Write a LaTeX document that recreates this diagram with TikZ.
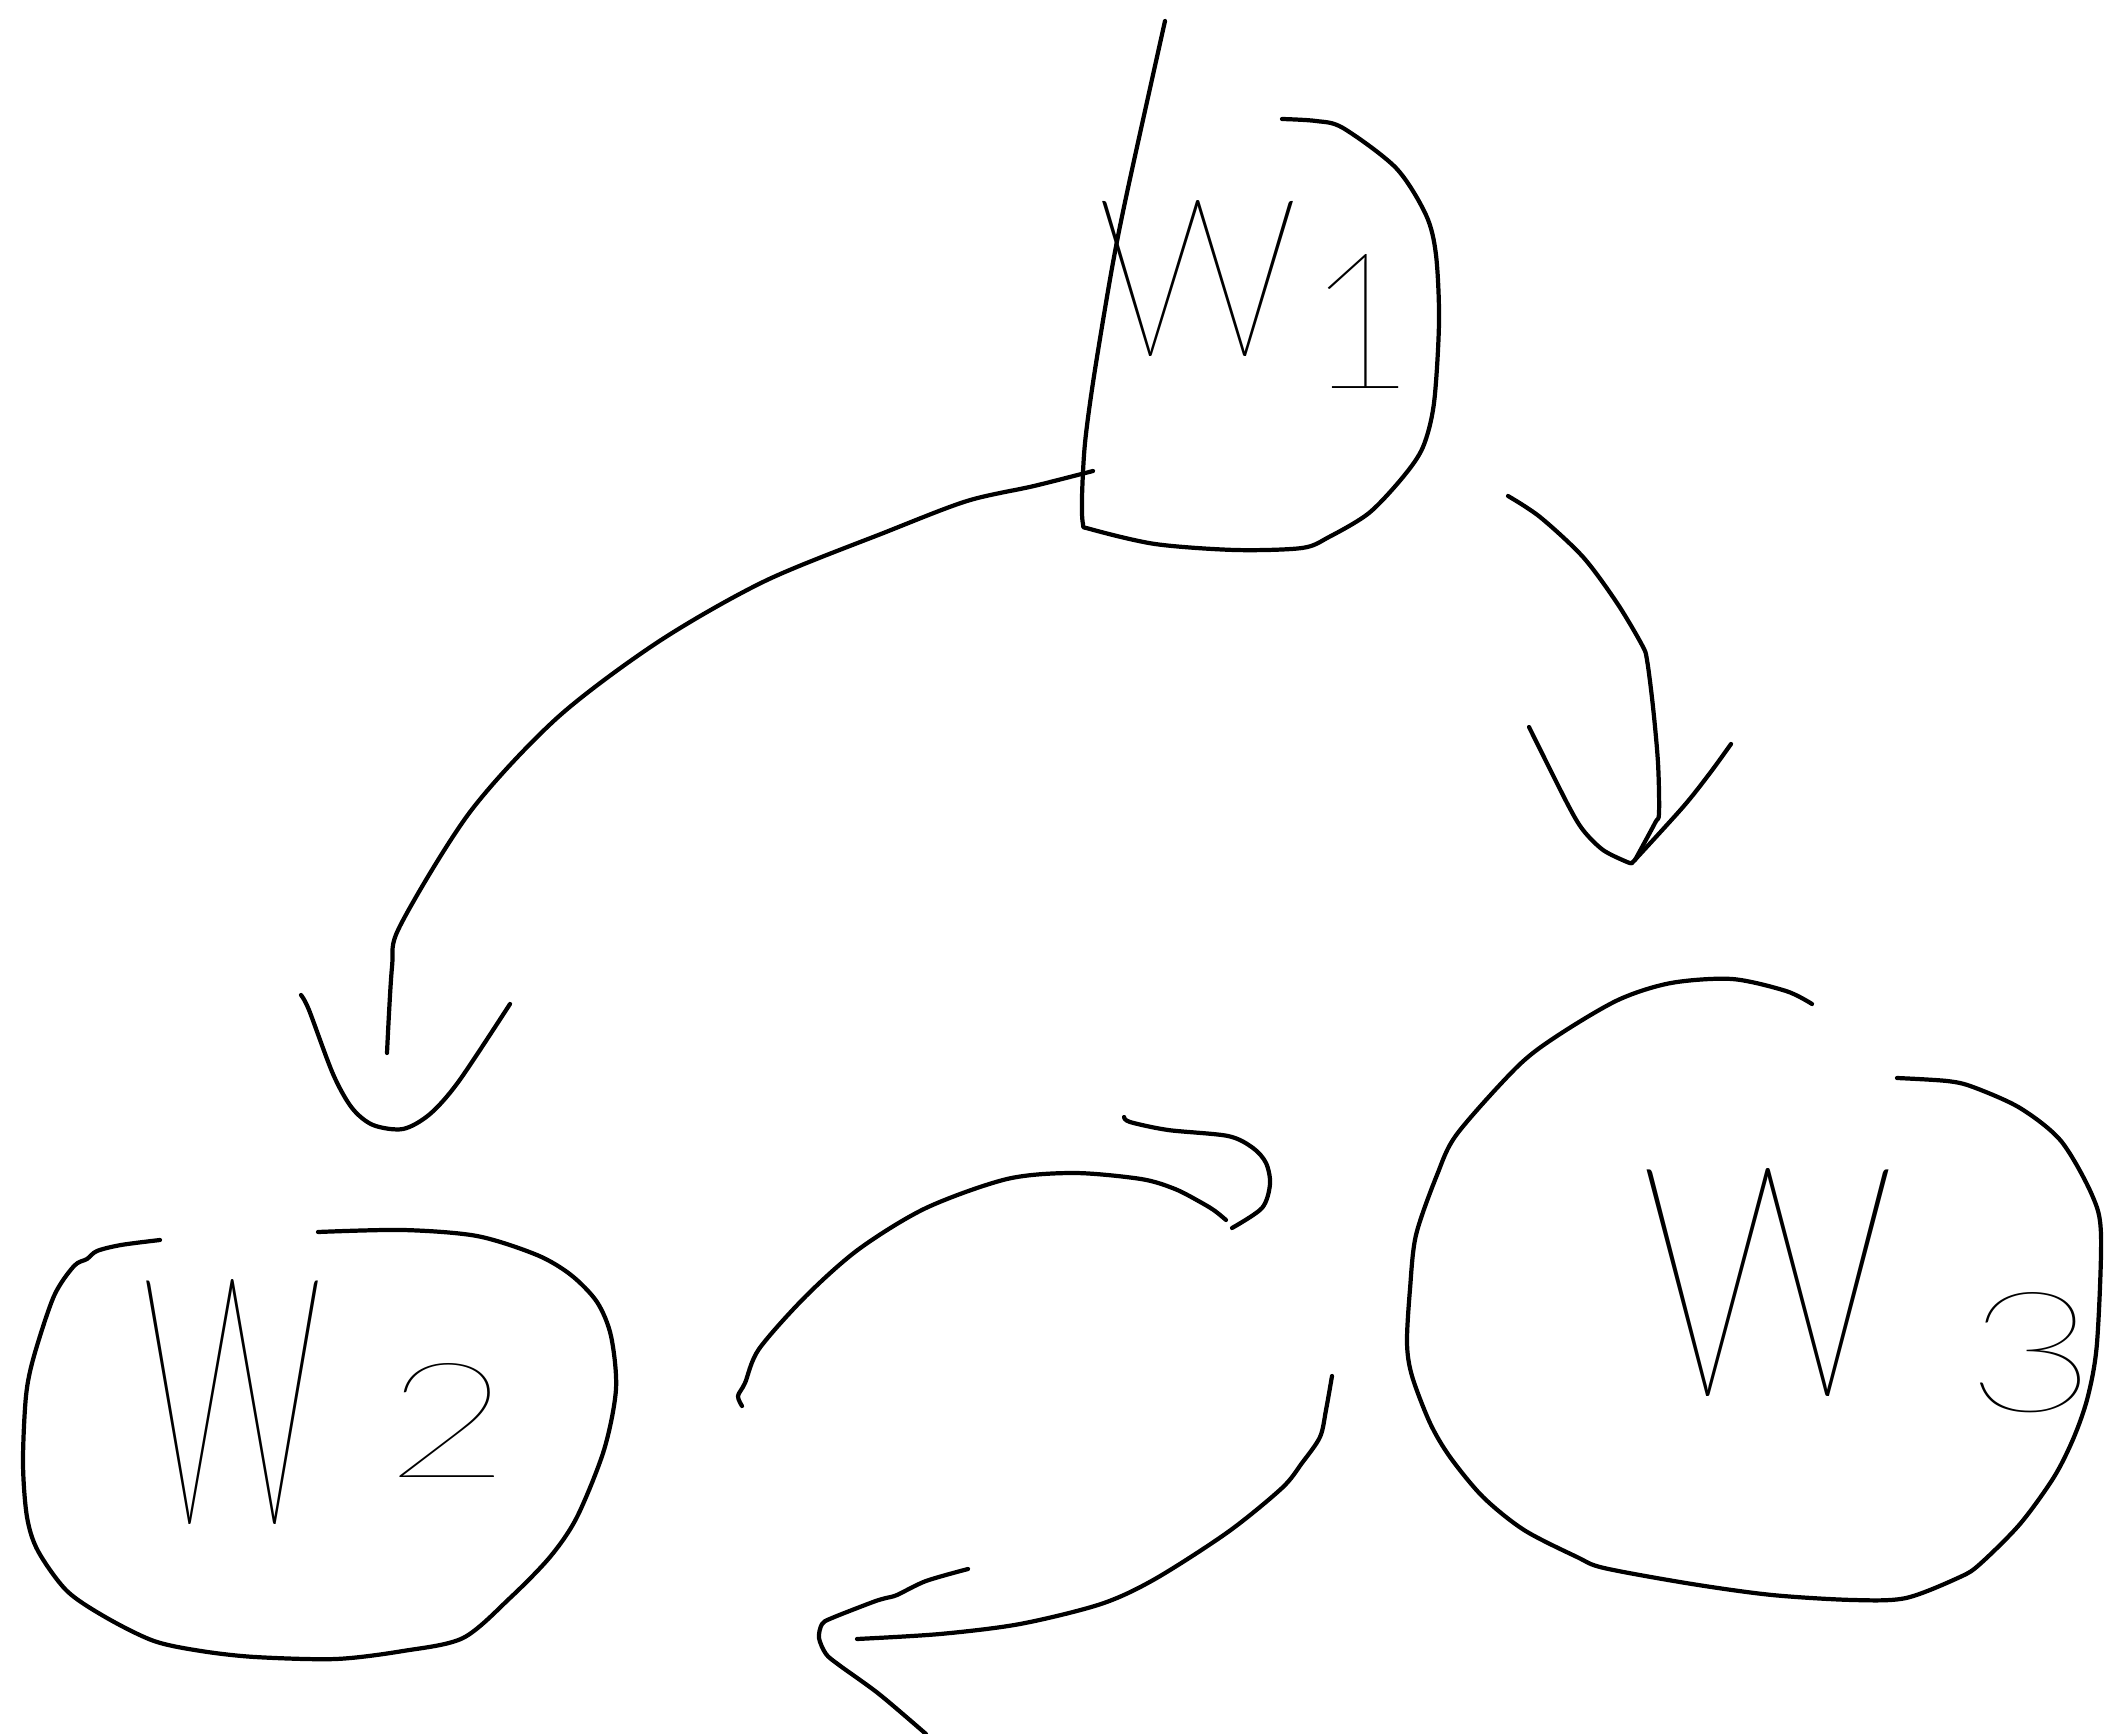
\documentclass[tikz,border=0pt]{standalone}
\usepackage{fontspec}
\newfontfamily\handfont{Lato Hairline}
\tikzset{
  ink/.style={line width=1.2pt, line cap=round, line join=round},
  lbl/.style={inner sep=0pt, outer sep=0pt, font=\handfont, anchor=base west}
}
\begin{document}
\begin{tikzpicture}[x=0.1mm, y=0.1mm]
\useasboundingbox (0,0) rectangle (2105,-1734);

% ---------- labels ----------
\node[lbl] (w1) at (1093,-357)
  {\resizebox{20.9mm}{15.6mm}{w}\hspace{0.3mm}\raisebox{-3.2mm}{\resizebox{!}{13.4mm}{1}}};
\node[lbl] (w2) at (138,-1524)
  {\resizebox{18.8mm}{24.5mm}{w}\hspace{5.9mm}\raisebox{4.7mm}{\resizebox{12.5mm}{11.4mm}{2}}};
\node[lbl] (w3) at (1635,-1396)
  {\resizebox{26.5mm}{22.8mm}{w}\hspace{6.5mm}\raisebox{-1.6mm}{\resizebox{13.2mm}{11.9mm}{3}}};

% ---------- outline around w1 ----------
\draw[ink] plot[smooth, tension=0.5] coordinates {
  (1165,-21) (1128,-188) (1112,-268) (1094,-376) (1085,-443) (1082,-497)
  (1083,-524) (1090,-529) (1155,-544) (1235,-550) (1302,-548) (1329,-537)
  (1369,-513) (1403,-477) (1423,-447) (1434,-403) (1439,-322) (1436,-255)
  (1426,-215) (1396,-168) (1343,-128) (1316,-121) (1282,-119)};

% ---------- outline around w2 ----------
\draw[ink] plot[smooth, tension=0.5] coordinates {
  (160,-1240) (121,-1245) (97,-1251) (87,-1259) (74,-1266) (54,-1296)
  (34,-1356) (26,-1396) (23,-1463) (27,-1517) (38,-1551) (67,-1591)
  (107,-1618) (154,-1641) (201,-1651) (255,-1657) (336,-1659) (403,-1651)
  (463,-1638) (510,-1598) (550,-1557) (577,-1517) (604,-1450) (616,-1389)
  (611,-1336) (597,-1302) (571,-1275) (537,-1255) (477,-1236) (403,-1230)
  (318,-1232)};

% ---------- outline around w3 ----------
\draw[ink] plot[smooth, tension=0.5] coordinates {
  (1812,-1004) (1786,-991) (1732,-979) (1671,-983) (1618,-1000) (1557,-1036)
  (1517,-1067) (1457,-1134) (1437,-1175) (1416,-1235) (1410,-1289)
  (1407,-1343) (1412,-1376) (1430,-1423) (1450,-1457) (1483,-1497)
  (1524,-1530) (1577,-1557) (1604,-1568) (1692,-1584) (1772,-1595)
  (1853,-1600) (1906,-1598) (1960,-1577) (1980,-1564) (2020,-1524)
  (2054,-1477) (2074,-1437) (2088,-1396) (2097,-1343) (2101,-1235)
  (2092,-1195) (2061,-1141) (2020,-1108) (1973,-1087) (1947,-1081)
  (1897,-1078)};

% ---------- arrow w1 -> w2 ----------
\draw[ink] plot[smooth, tension=0.5] coordinates {
  (1093,-471) (1034,-486) (967,-501) (886,-532) (765,-581) (658,-642)
  (557,-718) (470,-812) (400,-926) (392,-967) (387,-1053)};
\draw[ink] plot[smooth, tension=0.5] coordinates {
  (301,-995) (309,-1010) (333,-1074) (352,-1108) (373,-1125) (403,-1129)
  (430,-1114) (459,-1081) (510,-1004)};

% ---------- arrow w1 -> w3 ----------
\draw[ink] plot[smooth, tension=0.5] coordinates {
  (1508,-496) (1540,-517) (1583,-557) (1617,-603) (1642,-645) (1647,-660)
  (1653,-707) (1658,-763) (1659,-813) (1655,-823) (1635,-860)};
\draw[ink] plot[smooth, tension=0.5] coordinates {
  (1529,-727) (1567,-803) (1583,-830) (1603,-850) (1627,-862) (1632,-863)};
\draw[ink] plot[smooth, tension=0.5] coordinates {
  (1632,-863) (1683,-807) (1710,-773) (1731,-744)};

% ---------- arrow w2 -> w3 ----------
\draw[ink] plot[smooth, tension=0.5] coordinates {
  (742,-1406) (738,-1396) (745,-1383) (759,-1349) (806,-1296) (859,-1249)
  (926,-1208) (1007,-1179) (1074,-1173) (1141,-1179) (1175,-1189)
  (1202,-1203) (1215,-1211) (1226,-1220)};
\draw[ink] plot[smooth, tension=0.5] coordinates {
  (1124,-1117) (1130,-1122) (1168,-1130) (1228,-1136) (1253,-1148)
  (1266,-1163) (1270,-1184) (1262,-1208) (1232,-1228)};

% ---------- arrow w3 -> w2 ----------
\draw[ink] plot[smooth, tension=0.5] coordinates {
  (1332,-1376) (1326,-1410) (1320,-1437) (1302,-1463) (1282,-1488)
  (1228,-1532) (1155,-1579) (1101,-1604) (1020,-1624) (940,-1634)
  (857,-1639)};
\draw[ink] plot[smooth, tension=0.5] coordinates {
  (968,-1569) (926,-1581) (897,-1595) (886,-1598) (873,-1602) (832,-1618)
  (822,-1624) (819,-1638) (826,-1654) (839,-1665) (879,-1694) (926,-1734)};
\end{tikzpicture}
\end{document}
